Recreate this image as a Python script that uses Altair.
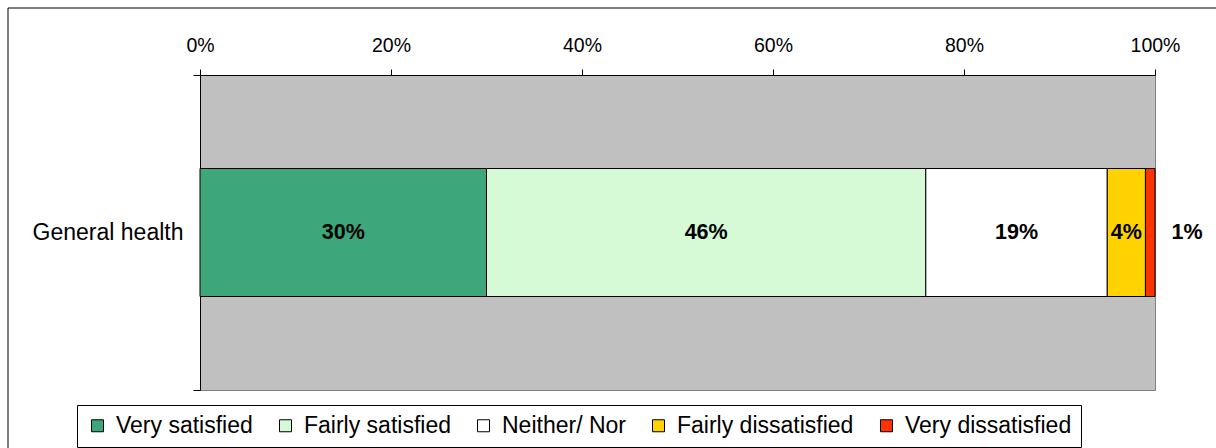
import altair as alt
import pandas as pd

categories = ["Very satisfied", "Fairly satisfied", "Neither/ Nor", "Fairly dissatisfied", "Very dissatisfied"]
values = [30, 46, 19, 4, 1]
colors = ["#3DA67A", "#D5FAD5", "#FFFFFF", "#FFD200", "#FF3300"]
question = "General health"
tick_values = [0, 20, 40, 60, 80, 100]

rows = []
start = 0
for i, (c, v) in enumerate(zip(categories, values)):
    rows.append(dict(question=question, response=c, value=v, order=i,
                     start=start, end=start + v, mid=start + v / 2, label=f"{v}%"))
    start += v
df = pd.DataFrame(rows)

FONT = "Liberation Sans"

x_axis = alt.Axis(orient="top", values=tick_values, title=None, grid=False,
                  domainColor="black", tickColor="black", tickSize=6,
                  labelFontSize=19.5, labelPadding=14, labelFont=FONT,
                  labelExpr="datum.value + '%'", labelFlush=False, labelColor="black")
y_axis = alt.Axis(title=None, domain=True, domainColor="black", ticks=True,
                  tickBand="extent", tickSize=7, tickColor="black",
                  labelFontSize=23, labelPadding=10, labelColor="black", labelFont=FONT)

base = alt.Chart(df)

border = alt.Chart(alt.Data(values=[{}])).mark_rect(
    fill=None, stroke="black", strokeWidth=1
).encode(x=alt.value(-192), x2=alt.value(1030), y=alt.value(-67), y2=alt.value(390))

bars = base.mark_bar(stroke="black", strokeWidth=1, size=128).encode(
    x=alt.X("start:Q", scale=alt.Scale(domain=[0, 100], nice=False), axis=x_axis),
    x2="end:Q",
    y=alt.Y("question:N", axis=y_axis, scale=alt.Scale(paddingInner=0, paddingOuter=0)),
    color=alt.Color("response:N", scale=alt.Scale(domain=categories, range=colors),
                    legend=alt.Legend(orient="none", legendX=-123, legendY=330,
                                      direction="horizontal", columns=5, title=None,
                                      symbolType="square", symbolSize=144,
                                      symbolStrokeColor="black", symbolStrokeWidth=1,
                                      symbolOpacity=1,
                                      labelFontSize=23, labelFont=FONT, labelColor="black",
                                      labelOffset=7, columnPadding=21, padding=9,
                                      labelLimit=400,
                                      strokeColor="black", fillColor="white")),
    order="order:Q",
)

inside = base.transform_filter("datum.value >= 2").mark_text(
    fontWeight="bold", fontSize=21.5, font=FONT, color="black", align="center", baseline="middle"
).encode(x="mid:Q", y="question:N", text="label:N")

outside = base.transform_filter("datum.value < 2").mark_text(
    fontWeight="bold", fontSize=21.5, font=FONT, color="black", align="center", baseline="middle", dx=32
).encode(x="end:Q", y="question:N", text="label:N")

chart = alt.layer(border, bars, inside, outside).properties(
    width=955, height=315,
    autosize=alt.AutoSizeParams(type="none"),
    padding={"left": 200, "top": 75, "right": 61, "bottom": 58},
).configure_view(fill="#C0C0C0", stroke="#808080", strokeWidth=1)

chart.save("out.html", embed_options={"renderer": "svg", "actions": False})
